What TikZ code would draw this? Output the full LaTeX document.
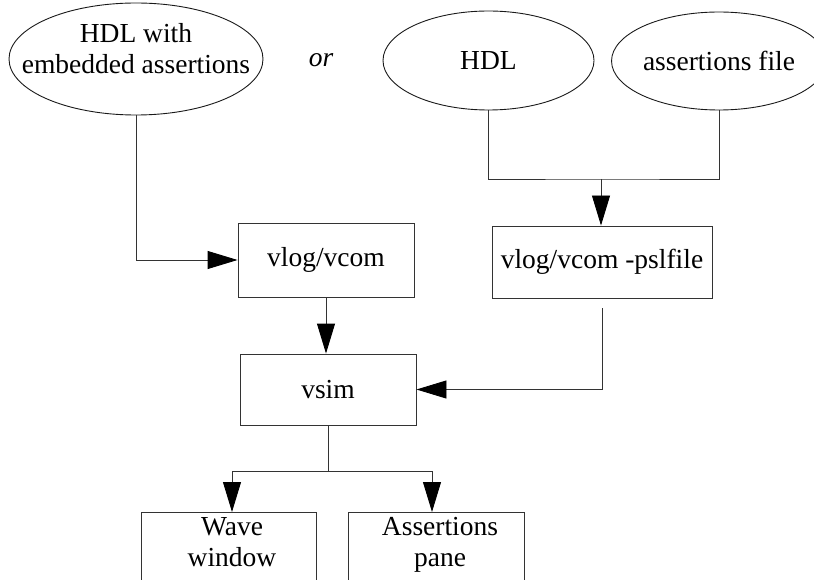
\documentclass[tikz,border=0pt]{standalone}
\usepackage{fontspec}
\setmainfont{Liberation Serif}
\usetikzlibrary{arrows.meta,shapes.geometric}
\tikzset{
  txt/.style={inner sep=0pt,font=\fontsize{27.5bp}{31bp}\selectfont},
  box/.style={txt,draw=black!80,line width=0.9bp,rectangle},
  src/.style={txt,draw=black!90,line width=0.9bp,ellipse},
  link/.style={draw=black!80,line width=0.9bp},
  flow/.style={link,-{Triangle[length=30bp,width=18bp,color=black]}}
}

\begin{document}
\begin{tikzpicture}[x=1bp,y=-1bp] % one unit = one pixel, y downward
  \useasboundingbox (0,0) rectangle (814,580);
  \clip (0,0) rectangle (814,580);
  % sources
  \node[src,minimum width=254bp,minimum height=112bp] (embed) at (136,59) {};
  \node[txt,align=center] (embedtxt) at (136,49) {HDL with\\embedded assertions};
  \node[txt] (or) at (321,60) {\itshape or};
  \node[src,minimum width=211bp,minimum height=99bp] (hdl) at (488.5,60.5) {HDL};
  \node[src,minimum width=212bp,minimum height=98bp] (afile) at (719,61) {assertions file};
  % tools
  \node[box,minimum width=176bp,minimum height=74bp] (vlog) at (326,260) {vlog/vcom};
  \node[box,minimum width=220bp,minimum height=72bp] (psl) at (602,262) {vlog/vcom -pslfile};
  \node[box,minimum width=176bp,minimum height=71bp] (vsim) at (328,389.5) {vsim};
  % views
  \node[box,minimum width=175bp,minimum height=100bp,anchor=north] (wave) at (228.5,512) {};
  \node[box,minimum width=176bp,minimum height=100bp,anchor=north] (pane) at (436,512) {};
  \node[txt,align=center,anchor=north] (wavetxt) at ([xshift=3.5bp,yshift=-5bp]wave.north) {Wave\\window};
  \node[txt,align=center,anchor=north] (panetxt) at ([xshift=4bp,yshift=-5bp]pane.north) {Assertions\\pane};
  % connectors
  \coordinate (merge) at (601,179);
  \coordinate (fork) at (328,471);
  \draw[flow] (embed.south) |- (vlog.west);
  \draw[link] (hdl.south) |- (merge) -| (afile.south);
  \draw[flow] (merge) -- (merge |- psl.north);
  \draw[flow] ([yshift=-10bp]psl.south) |- (vsim.east);
  \draw[flow] (vlog.south) -- (vlog.south |- vsim.north);
  \draw[link] (vsim.south) -- (fork);
  \draw[flow] (fork) -| ([xshift=3.5bp]wave.north);
  \draw[flow] (fork) -| ([xshift=-4bp]pane.north);
\end{tikzpicture}
\end{document}
